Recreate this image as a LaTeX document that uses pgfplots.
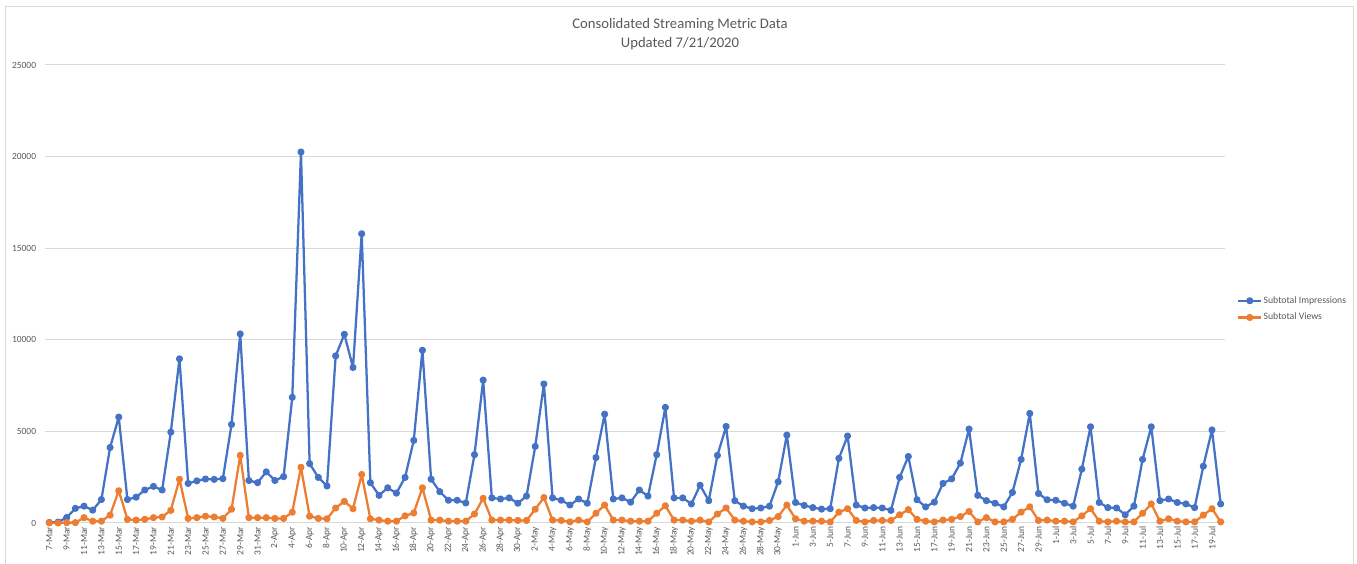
\documentclass[border=0pt]{standalone}
\usepackage{pgfplots}
\pgfplotsset{compat=1.18}
\usepackage{pgfplotstable}
\usepackage{fontspec}
\setmainfont{Carlito}
\definecolor{xblue}{HTML}{4472C4}
\definecolor{xorange}{HTML}{ED7D31}
\definecolor{xgrid}{HTML}{D9D9D9}
\definecolor{xtext}{HTML}{595959}

\pgfplotstableread{
x I V
0 30 10
1 50 0
2 300 20
3 800 20
4 920 290
5 700 100
6 1280 100
7 4120 430
8 5780 1760
9 1280 200
10 1410 160
11 1800 200
12 2000 290
13 1800 330
14 4960 690
15 8960 2390
16 2160 250
17 2300 290
18 2400 370
19 2380 330
20 2420 250
21 5380 750
22 10320 3690
23 2320 290
24 2200 290
25 2790 290
26 2320 250
27 2530 250
28 6860 590
29 20250 3040
30 3240 370
31 2490 250
32 2020 230
33 9120 820
34 10300 1180
35 8490 780
36 15790 2650
37 2200 230
38 1510 160
39 1920 100
40 1630 100
41 2490 390
42 4510 550
43 9430 1920
44 2390 160
45 1710 160
46 1240 100
47 1240 100
48 1090 100
49 3730 490
50 7800 1350
51 1370 160
52 1310 160
53 1370 160
54 1080 140
55 1470 140
56 4180 750
57 7590 1390
58 1370 160
59 1240 140
60 980 60
61 1310 160
62 1080 60
63 3570 530
64 5940 980
65 1310 160
66 1370 160
67 1140 100
68 1800 100
69 1470 100
70 3730 530
71 6310 940
72 1370 160
73 1370 160
74 1040 100
75 2060 160
76 1220 60
77 3690 490
78 5270 820
79 1220 160
80 920 100
81 780 60
82 820 60
83 920 140
84 2250 350
85 4800 980
86 1120 230
87 960 100
88 840 100
89 760 100
90 780 60
91 3530 590
92 4750 780
93 980 140
94 820 60
95 840 140
96 820 140
97 690 140
98 2490 450
99 3630 730
100 1270 200
101 880 100
102 1140 60
103 2160 160
104 2410 200
105 3270 350
106 5130 630
107 1510 60
108 1220 290
109 1080 60
110 880 60
111 1670 200
112 3470 590
113 5980 880
114 1610 140
115 1270 160
116 1240 100
117 1080 100
118 920 60
119 2940 390
120 5250 780
121 1120 100
122 840 60
123 820 100
124 450 60
125 920 60
126 3470 530
127 5250 1040
128 1220 100
129 1310 230
130 1120 100
131 1040 60
132 840 60
133 3100 430
134 5080 780
135 1040 60
}\data

\begin{document}
\begin{tikzpicture}[x=0.75pt,y=0.75pt]
\useasboundingbox (0,0) rectangle (1357,564);
\draw[xgrid, line width=0.75pt] (5,-2) -- (5,557) -- (1353,557) -- (1353,-2);
\node[align=center, font=\fontsize{11}{14.25}\selectfont, text=xtext] at (680,529.5) {Consolidated Streaming Metric Data\\Updated 7/21/2020};
\begin{axis}[
  at={(33.75pt,30.75pt)}, anchor=south west,
  scale only axis, width=885pt, height=343.5pt,
  xmin=-0.5, xmax=135.5, ymin=0, ymax=25000,
  axis lines*=left,
  x axis line style={draw=xgrid, line width=0.75pt},
  y axis line style={draw=none},
  tick style={draw=none},
  major tick length=0pt,
  ytick={0,5000,10000,15000,20000,25000},
  ymajorgrids, grid style={draw=xgrid, line width=0.75pt},
  /pgf/number format/assume math mode=true,
  /pgf/number format/1000 sep={},
  scaled y ticks=false,
  yticklabel style={font=\fontsize{7.1}{8}\selectfont, text=xtext, inner sep=0pt, xshift=-6.5pt},
  xtick={0,2,...,134},
  xticklabels={7-Mar,9-Mar,11-Mar,13-Mar,15-Mar,17-Mar,19-Mar,21-Mar,23-Mar,25-Mar,27-Mar,29-Mar,31-Mar,
    2-Apr,4-Apr,6-Apr,8-Apr,10-Apr,12-Apr,14-Apr,16-Apr,18-Apr,20-Apr,22-Apr,24-Apr,26-Apr,28-Apr,30-Apr,
    2-May,4-May,6-May,8-May,10-May,12-May,14-May,16-May,18-May,20-May,22-May,24-May,26-May,28-May,30-May,
    1-Jun,3-Jun,5-Jun,7-Jun,9-Jun,11-Jun,13-Jun,15-Jun,17-Jun,19-Jun,21-Jun,23-Jun,25-Jun,27-Jun,29-Jun,
    1-Jul,3-Jul,5-Jul,7-Jul,9-Jul,11-Jul,13-Jul,15-Jul,17-Jul,19-Jul},
  xticklabel style={font=\fontsize{7.1}{8}\selectfont, text=xtext, rotate=90, anchor=east, inner sep=2.6pt},
  clip=false,
  legend style={draw=none, fill=none, at={(1,0.467)}, anchor=west, xshift=9pt,
    font=\fontsize{7.3}{8.5}\selectfont, text=xtext, row sep=4pt, inner sep=0pt,
    nodes={inner sep=1pt}},
  legend cell align=left,
  every axis plot/.append style={line width=1.7pt, line join=round, mark=*, mark size=1.8pt},
]
\addplot[xblue, mark options={fill=xblue}] table[x=x, y=I] {\data};
\addlegendentry{Subtotal Impressions}
\addplot[xorange, mark options={fill=xorange}] table[x=x, y=V] {\data};
\addlegendentry{Subtotal Views}
\end{axis}
\end{tikzpicture}
\end{document}
